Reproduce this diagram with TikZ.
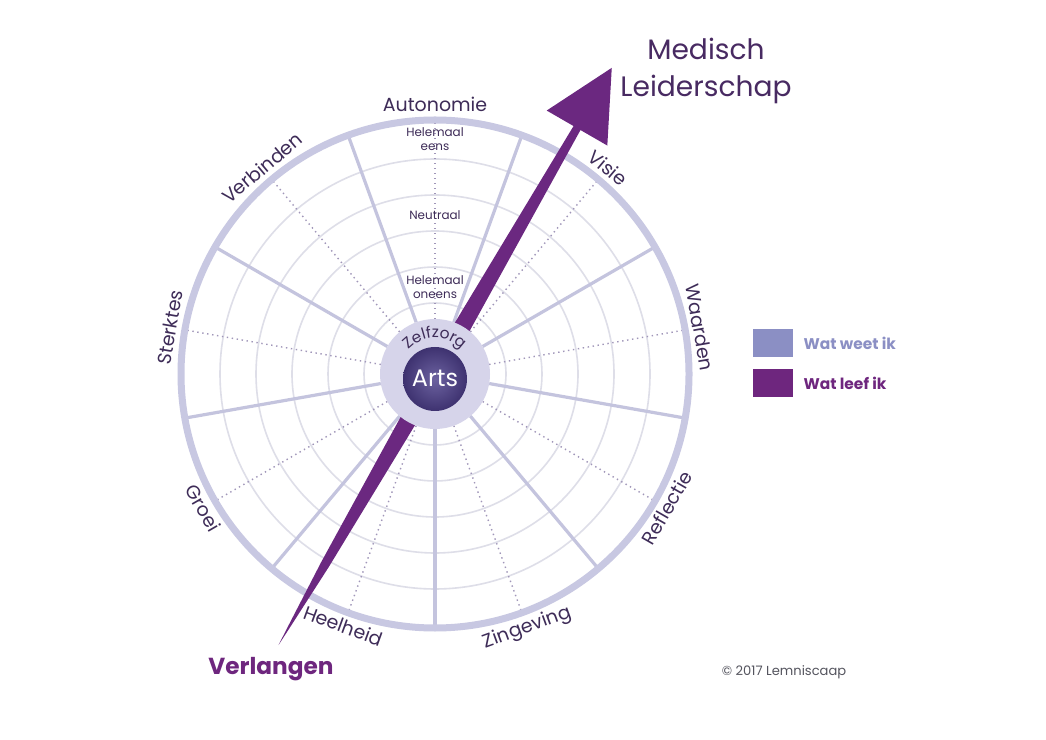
\documentclass[tikz,border=0pt]{standalone}
\usepackage{fontspec}
\setmainfont{Poppins}
\usetikzlibrary{positioning,decorations.text}
\definecolor{ringlav}{RGB}{200,200,226}
\definecolor{spokelav}{RGB}{196,196,222}
\definecolor{gridgrey}{RGB}{222,222,232}
\definecolor{dotpurple}{RGB}{160,150,185}
\definecolor{hubfill}{RGB}{214,212,234}
\definecolor{artsdark}{RGB}{62,50,112}
\definecolor{artslight}{RGB}{108,98,160}
\definecolor{labelink}{RGB}{62,44,88}
\definecolor{needlepurple}{RGB}{107,40,128}
\definecolor{titleink}{RGB}{72,42,98}
\definecolor{weetblue}{RGB}{139,143,196}
\definecolor{leefpurple}{RGB}{110,38,126}
\definecolor{copygrey}{RGB}{85,85,95}

\newcommand{\hubfont}{\fontsize{11}{13}\selectfont\color{labelink}}

\begin{document}
\begin{tikzpicture}[x=0.25mm, y=0.25mm,
    gridring/.style={draw=gridgrey, line width=0.4mm},
    midline/.style={draw=dotpurple, line width=0.35mm, dash pattern=on 0.35mm off 0.9mm},
    spoke/.style={draw=spokelav, line width=0.8mm},
    sectorlabel/.style={font=\fontsize{13.5}{16}\selectfont, text=labelink, anchor=base, inner sep=0},
    scaletext/.style={font=\fontsize{8.5}{9.5}\selectfont, text=labelink, align=center, inner sep=0},
    legendbox/.style={minimum width=10mm, minimum height=7mm, inner sep=0},
    legendtext/.style={font=\bfseries\fontsize{11}{13}\selectfont, inner sep=0}]
  \useasboundingbox (0,0) rectangle (1046,739);
  \fill[white] (0,0) rectangle (1046,739);
  \coordinate (C) at (435,365);

  \begin{scope}[shift={(C)}]
    % grid
    \foreach \r in {71,107,143,179,215}
      \draw[gridring] (0,0) circle[radius=\r];
    \foreach \a in {10,50,...,330}
      \draw[midline] (\a:55) -- (\a:252);
    \foreach \a in {30,70,...,350}
      \draw[spoke] (\a:55) -- (\a:252);
    \draw[ringlav, line width=1.75mm] (0,0) circle[radius=254];

    % needle
    \begin{scope}[rotate=60]
      \fill[needlepurple] (-313,0) -- (-290,-1.2) -- (-220,-4.5) -- (0,-9.5)
        -- (284,-4) -- (284,-35) -- (353.5,0) -- (284,35) -- (284,4)
        -- (0,9.5) -- (-220,4.5) -- (-290,1.2) -- cycle;
    \end{scope}

    % hub
    \fill[hubfill] (0,0) circle[radius=55];
    \shade[inner color=artslight, outer color=artsdark] (0,-5) circle[radius=32];
    \node[text=white, font=\fontsize{17}{20}\selectfont] (arts) at (0,-4) {Arts};
    \path[decorate, decoration={text along path, text align=center,
        text={|\hubfont|Zelfzorg}}]
      (160:36) arc[start angle=160, end angle=20, radius=36];

    % scale
    \node[scaletext] (eens) at (0,235) {Helemaal\\eens};
    \node[scaletext] (neutraal) at (0,159) {Neutraal};
    \node[scaletext] (oneens) at (0,87) {Helemaal\\oneens};

    % sector labels
    \foreach \a/\word in {90/Autonomie, 50/Visie, 10/Waarden, 170/Sterktes, 130/Verbinden}
      \node[sectorlabel, rotate=\a-90] (\word) at (\a:262) {\word};
    \foreach \a/\word in {330/Reflectie, 290/Zingeving, 250/Heelheid, 210/Groei}
      \node[sectorlabel, rotate=\a+90] (\word) at (\a:275) {\word};
  \end{scope}

  \node[text=titleink, font=\fontsize{20}{26}\selectfont, align=center] (title) at (706,668) {Medisch\\Leiderschap};
  \node[text=leefpurple, font=\bfseries\fontsize{16.5}{20}\selectfont] (verlangen) at (271,70) {Verlangen};

  % legend
  \node[legendbox, fill=weetblue] (weetbox) at (773,396) {};
  \node[legendbox, fill=leefpurple] (leefbox) at (773,356) {};
  \node[legendtext, text=weetblue, right=2.5mm of weetbox] (weet) {Wat weet ik};
  \node[legendtext, text=leefpurple, right=2.5mm of leefbox] (leef) {Wat leef ik};

  \node[text=copygrey, font=\fontsize{9.3}{11}\selectfont] (copy) at (784,67) {\textcopyright{} 2017 Lemniscaap};
\end{tikzpicture}
\end{document}
